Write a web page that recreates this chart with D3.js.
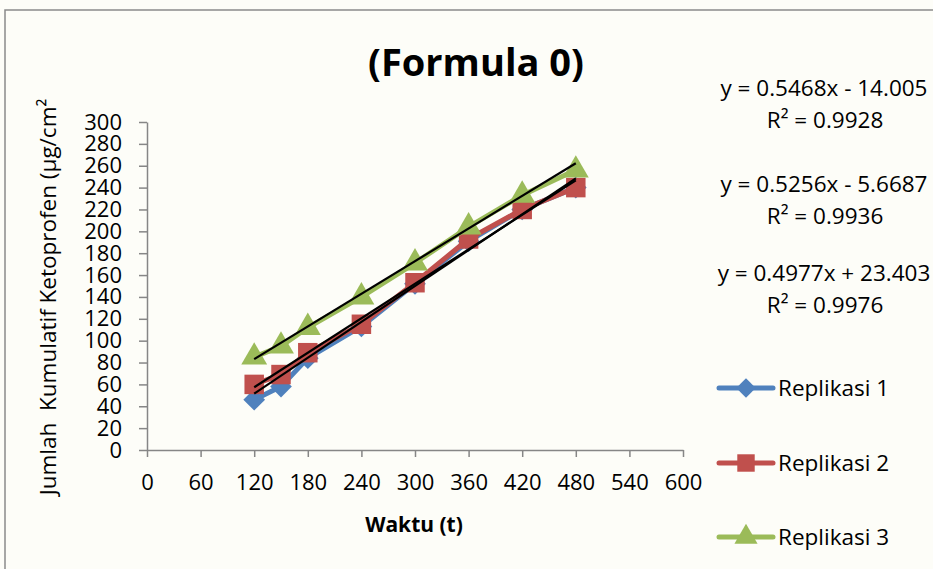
<!DOCTYPE html>
<html>
<head>
<meta charset="utf-8">
<script src="https://cdn.jsdelivr.net/npm/d3@7"></script>
<style>
  body { margin: 0; background: #fdfdf8; }
  svg text { font-family: "Open Sans", Lato, sans-serif; fill: #000; }
</style>
</head>
<body>
<div id="chart"></div>
<script>
// data
const waktu = [120, 150, 180, 240, 300, 360, 420, 480]
const replikasi1 = [46, 58, 84, 113, 152, 191, 220, 240]
const replikasi2 = [60, 69, 89, 115, 153, 193, 220, 240]
const replikasi3 = [85, 95, 112, 140, 171, 204, 233, 256]
const seriesNames = ['Replikasi 1', 'Replikasi 2', 'Replikasi 3']
const slopes = [0.5468, 0.5256, 0.4977]
const intercepts = [-14.005, -5.6687, 23.403]
const rSquared = ['0.9928', '0.9936', '0.9976']
const xTicks = [0, 60, 120, 180, 240, 300, 360, 420, 480, 540, 600]
const yTicks = d3.range(0, 301, 20)

const cfg = {
    w: 933,
    h: 569,
    plot: { left: 147, top: 122, right: 683, bottom: 450 },
    colors: ['#4f81bd', '#c0504d', '#9bbb59'],
    shapes: [d3.symbolDiamond2, d3.symbolSquare, d3.symbolTriangle],
    symbolSize: [300, 380, 290],
    lineWidth: 5,
    font: "'Open Sans'",
    fontSize: 22.5
}

const svg = d3.select('#chart')
    .append('svg')
    .attr('width', cfg.w)
    .attr('height', cfg.h)

// chart area frame
svg.append('rect')
    .attr('x', 5).attr('y', 10)
    .attr('width', 1000).attr('height', 1000)
    .attr('fill', '#fdfdf8')
    .attr('stroke', '#8a8a8a')
    .attr('stroke-width', 1.5)

const x = d3.scaleLinear().domain([0, 600]).range([cfg.plot.left, cfg.plot.right])
const y = d3.scaleLinear().domain([0, 300]).range([cfg.plot.bottom, cfg.plot.top])

// Y axis
const yAxis = svg.append('g')
    .attr('transform', `translate(${cfg.plot.left}, 0)`)
    .call(d3.axisLeft(y).tickValues(yTicks).tickSize(8).tickSizeOuter(0).tickPadding(17))
yAxis.selectAll('text').attr('font-size', 22).style('font-family', cfg.font)
yAxis.selectAll('line, path').attr('stroke', '#868686').attr('stroke-width', 1.5)

// X axis
const xAxis = svg.append('g')
    .attr('transform', `translate(0, ${cfg.plot.bottom})`)
    .call(d3.axisBottom(x).tickValues(xTicks).tickSize(7).tickSizeOuter(0).tickPadding(17))
xAxis.selectAll('text').attr('font-size', 22).style('font-family', cfg.font)
xAxis.selectAll('line, path').attr('stroke', '#868686').attr('stroke-width', 1.5)

// series
const data = [replikasi1, replikasi2, replikasi3].map((vals, i) => ({
    id: i,
    values: waktu.map((t, j) => ({ t: t, v: vals[j] }))
}))

const line = d3.line()
    .x(d => x(d.t))
    .y(d => y(d.v))

data.forEach(s => {
    svg.append('path')
        .attr('fill', 'none')
        .attr('stroke', cfg.colors[s.id])
        .attr('stroke-width', cfg.lineWidth)
        .attr('stroke-linejoin', 'round')
        .attr('d', line(s.values))

    svg.selectAll(`.dot${s.id}`)
        .data(s.values).enter()
        .append('path')
        .attr('transform', d => `translate(${x(d.t)}, ${y(d.v)})`)
        .attr('d', d3.symbol().type(cfg.shapes[s.id]).size(cfg.symbolSize[s.id]))
        .attr('fill', cfg.colors[s.id])
})

// linear trendlines
const xMin = d3.min(waktu), xMax = d3.max(waktu)
slopes.forEach((m, i) => {
    svg.append('line')
        .attr('x1', x(xMin)).attr('y1', y(m * xMin + intercepts[i]))
        .attr('x2', x(xMax)).attr('y2', y(m * xMax + intercepts[i]))
        .attr('stroke', '#000')
        .attr('stroke-width', 2.2)
})

// equations
const eqY = [88, 184, 273]
slopes.forEach((m, i) => {
    const b = intercepts[i]
    const sign = b < 0 ? '-' : '+'
    svg.append('text')
        .attr('x', 824).attr('y', eqY[i] + 8)
        .attr('text-anchor', 'middle')
        .attr('font-size', cfg.fontSize)
        .text(`y = ${m}x ${sign} ${Math.abs(b)}`)
    svg.append('text')
        .attr('x', 825).attr('y', eqY[i] + 40)
        .attr('text-anchor', 'middle')
        .attr('font-size', cfg.fontSize)
        .text(`R² = ${rSquared[i]}`)
})

// title
svg.append('text')
    .attr('x', 476).attr('y', 76)
    .attr('text-anchor', 'middle')
    .attr('font-size', 38)
    .attr('font-weight', 'bold')
    .text('(Formula 0)')

// axis titles
svg.append('text')
    .attr('x', 414).attr('y', 532)
    .attr('text-anchor', 'middle')
    .attr('font-size', 21)
    .attr('font-weight', 'bold')
    .text('Waktu (t)')

svg.append('text')
    .attr('transform', 'translate(56, 297) rotate(-90)')
    .attr('text-anchor', 'middle')
    .attr('font-size', cfg.fontSize)
    .text('Jumlah\u00a0\u00a0Kumulatif Ketoprofen (µg/cm²')

// legend
const legendY = [388, 463, 537]
seriesNames.forEach((name, i) => {
    const g = svg.append('g').attr('transform', `translate(0, ${legendY[i]})`)
    g.append('line')
        .attr('x1', 719).attr('x2', 773)
        .attr('stroke', cfg.colors[i])
        .attr('stroke-width', cfg.lineWidth)
        .attr('stroke-linecap', 'round')
    g.append('path')
        .attr('transform', 'translate(746, 0)')
        .attr('d', d3.symbol().type(cfg.shapes[i]).size(cfg.symbolSize[i] * 0.8))
        .attr('fill', cfg.colors[i])
    g.append('text')
        .attr('x', 778).attr('y', 8)
        .attr('font-size', cfg.fontSize)
        .text(name)
})
</script>
</body>
</html>
